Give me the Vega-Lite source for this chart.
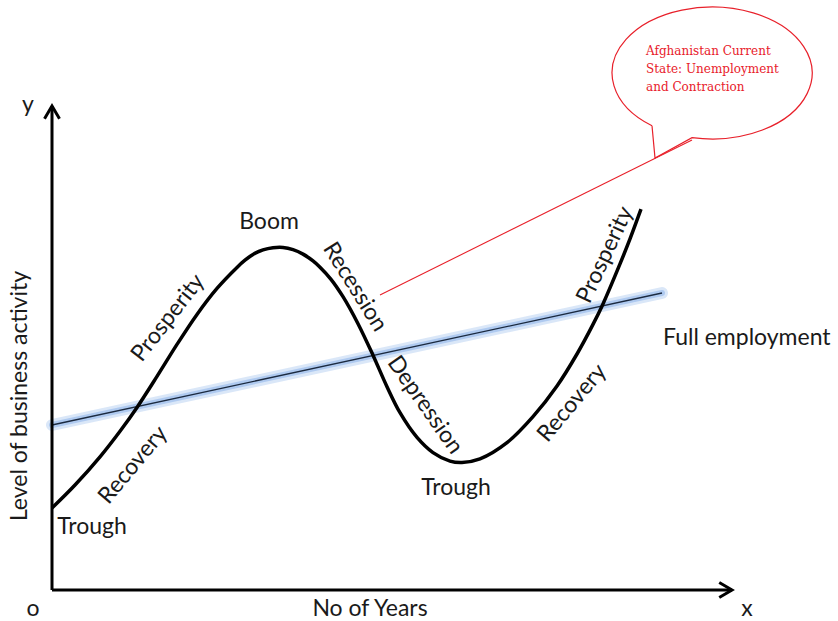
{
 "$schema": "https://vega.github.io/schema/vega-lite/v6.json",
 "width": 838, "height": 621,
 "autosize": {"type": "fit", "contains": "padding"},
 "padding": 0,
 "background": "white",
 "config": {"view": {"stroke": null}, "text": {"font": "Lato", "fontSize": 23, "color": "#1a1a1a"}},
 "datasets": {
  "curve": [
   {"x": 0, "y": 82}, {"x": 23, "y": 105}, {"x": 48, "y": 133.2}, {"x": 68, "y": 158.8}, {"x": 85, "y": 182.6},
   {"x": 105, "y": 213.6}, {"x": 125, "y": 245.6}, {"x": 145, "y": 275.6}, {"x": 165, "y": 301.6}, {"x": 185, "y": 322.6},
   {"x": 193, "y": 329.8}, {"x": 201, "y": 335.6}, {"x": 211, "y": 340.1}, {"x": 221, "y": 342.3}, {"x": 231, "y": 342.6},
   {"x": 241, "y": 340.4}, {"x": 251, "y": 335.9}, {"x": 261, "y": 329.1}, {"x": 268, "y": 322.8}, {"x": 279, "y": 310.7},
   {"x": 291, "y": 293.3}, {"x": 306, "y": 266.3}, {"x": 321, "y": 234.8}, {"x": 335, "y": 203.3}, {"x": 348, "y": 177.3},
   {"x": 365, "y": 152.6}, {"x": 381, "y": 137.4}, {"x": 398, "y": 128.9}, {"x": 410, "y": 127.5}, {"x": 428, "y": 131.1},
   {"x": 455, "y": 147.3}, {"x": 481, "y": 173.3}, {"x": 505, "y": 204}, {"x": 525, "y": 236}, {"x": 541, "y": 265.6},
   {"x": 551, "y": 286.1}, {"x": 568, "y": 326.1}, {"x": 578, "y": 351.1}, {"x": 589, "y": 380.8}
  ],
  "fullemp": [{"x": 0, "y": 165}, {"x": 610, "y": 297}],
  "axes": [{"x": 0, "y": 0, "x2": 0, "y2": 484}, {"x": 0, "y": 0, "x2": 680, "y2": 0}],
  "arrows": [{"dir": "up", "x": 0, "y": 484}, {"dir": "right", "x": 680, "y": 0}],
  "pointer": [{"x": 328, "y": 295, "x2": 640, "y2": 450}],
  "bubble": [{"x": 660, "y": 517}],
  "note": [{"text": "Afghanistan Current\nState: Unemployment\nand Contraction", "x": 594, "y": 535}],
  "labels": [
   {"label": "Boom", "x": 217, "y": 368},
   {"label": "Prosperity", "x": 116, "y": 272},
   {"label": "Recovery", "x": 81, "y": 125},
   {"label": "Trough", "x": 40, "y": 63},
   {"label": "Recession", "x": 303, "y": 303},
   {"label": "Depression", "x": 373, "y": 185},
   {"label": "Trough", "x": 404, "y": 102},
   {"label": "Recovery", "x": 520, "y": 187},
   {"label": "Prosperity", "x": 553, "y": 335}
  ],
  "axislabels": [
   {"label": "y", "x": -24, "y": 485},
   {"label": "o", "x": -19, "y": -19},
   {"label": "x", "x": 695, "y": -19},
   {"label": "No of Years", "x": 318, "y": -19}
  ]
 },
 "encoding": {
  "x": {"field": "x", "type": "quantitative", "scale": {"domain": [-52, 786], "nice": false, "zero": false}, "axis": null},
  "y": {"field": "y", "type": "quantitative", "scale": {"domain": [-31, 590], "nice": false, "zero": false}, "axis": null}
 },
 "layer": [
  {"data": {"name": "fullemp"}, "mark": {"type": "line", "stroke": "#7aa8e6", "strokeWidth": 12, "opacity": 0.28, "strokeCap": "round"}},
  {"data": {"name": "fullemp"}, "mark": {"type": "line", "stroke": "#7aa6e6", "strokeWidth": 6, "opacity": 0.45, "strokeCap": "round"}},
  {"data": {"name": "fullemp"}, "mark": {"type": "line", "stroke": "#1b2a40", "strokeWidth": 1.3}},
  {"data": {"name": "curve"}, "mark": {"type": "line", "stroke": "black", "strokeWidth": 3.5, "interpolate": "catmull-rom"}},
  {"data": {"name": "axes"}, "mark": {"type": "rule", "stroke": "black", "strokeWidth": 3},
   "encoding": {"x2": {"field": "x2"}, "y2": {"field": "y2"}}},
  {"data": {"name": "arrows"}, "transform": [{"filter": "datum.dir === 'up'"}],
   "mark": {"type": "point", "shape": "M -1 1.7 L 0 0 L 1 1.7", "size": 225, "filled": false, "stroke": "black", "strokeWidth": 3, "opacity": 1}},
  {"data": {"name": "arrows"}, "transform": [{"filter": "datum.dir === 'right'"}],
   "mark": {"type": "point", "shape": "M -1.7 -1 L 0 0 L -1.7 1", "size": 225, "filled": false, "stroke": "black", "strokeWidth": 3, "opacity": 1}},
  {"data": {"name": "pointer"}, "mark": {"type": "rule", "stroke": "#e8202a", "strokeWidth": 1.1},
   "encoding": {"x2": {"field": "x2"}, "y2": {"field": "y2"}}},
  {"data": {"name": "bubble"},
   "mark": {"type": "point", "shape": "M -0.6 0.528 L -0.57 0.85 L -0.2 0.647 A 1 0.66 0 1 0 -0.6 0.528", "size": 40000, "filled": false, "stroke": "#e8202a", "strokeWidth": 1.2, "opacity": 1}},
  {"data": {"name": "note"}, "mark": {"type": "text", "font": "DejaVu Serif", "fontSize": 12, "color": "#e8202a", "align": "left", "baseline": "alphabetic", "lineBreak": "\n", "lineHeight": 18},
   "encoding": {"text": {"field": "text"}}},
  {"data": {"name": "labels"}, "transform": [{"filter": "datum.label === 'Boom' || datum.label === 'Trough'"}],
   "mark": {"type": "text", "align": "center", "baseline": "middle"}, "encoding": {"text": {"field": "label"}}},
  {"data": {"name": "labels"}, "transform": [{"filter": "datum.label === 'Prosperity' && datum.x < 300"}],
   "mark": {"type": "text", "align": "center", "baseline": "middle", "angle": -52}, "encoding": {"text": {"field": "label"}}},
  {"data": {"name": "labels"}, "transform": [{"filter": "datum.label === 'Recovery'"}],
   "mark": {"type": "text", "align": "center", "baseline": "middle", "angle": -50}, "encoding": {"text": {"field": "label"}}},
  {"data": {"name": "labels"}, "transform": [{"filter": "datum.label === 'Recession'"}],
   "mark": {"type": "text", "align": "center", "baseline": "middle", "angle": 58}, "encoding": {"text": {"field": "label"}}},
  {"data": {"name": "labels"}, "transform": [{"filter": "datum.label === 'Depression'"}],
   "mark": {"type": "text", "align": "center", "baseline": "middle", "angle": 55}, "encoding": {"text": {"field": "label"}}},
  {"data": {"name": "labels"}, "transform": [{"filter": "datum.label === 'Prosperity' && datum.x > 300"}],
   "mark": {"type": "text", "align": "center", "baseline": "middle", "angle": -65}, "encoding": {"text": {"field": "label"}}},
  {"data": {"values": [{"label": "Full employment", "x": 611, "y": 252}]},
   "mark": {"type": "text", "align": "left", "baseline": "middle"}, "encoding": {"text": {"field": "label"}}},
  {"data": {"name": "axislabels"},
   "mark": {"type": "text", "align": "center", "baseline": "middle"}, "encoding": {"text": {"field": "label"}}},
  {"data": {"values": [{"label": "Level of business activity", "x": -32, "y": 194}]},
   "mark": {"type": "text", "align": "center", "baseline": "middle", "angle": -90}, "encoding": {"text": {"field": "label"}}}
 ]
}
